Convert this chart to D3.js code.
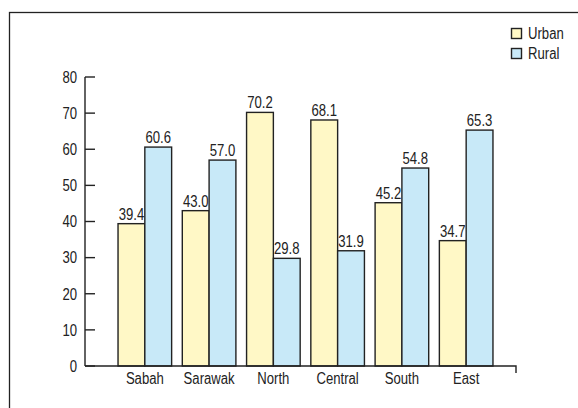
<!DOCTYPE html>
<html><head><meta charset="utf-8">
<script src="https://cdn.jsdelivr.net/npm/d3@7"></script>
<style>
html,body{margin:0;padding:0;background:#fff;}
text{font-family:"Liberation Sans Narrow","Arial Narrow","Liberation Sans",Arial,sans-serif;fill:#222;}
</style></head>
<body>
<svg id="c" width="578" height="408"></svg>
<script>
const categories = ["Sabah","Sarawak","North","Central","South","East"];
const seriesNames = ["Urban","Rural"];
const urban = [39.4,43.0,70.2,68.1,45.2,34.7];
const rural = [60.6,57.0,29.8,31.9,54.8,65.3];
const yTicks = [0,10,20,30,40,50,60,70,80];
const colors = ["#fff8c6","#c8e9f8"];

const svg = d3.select("#c");
const FS = 16, SX = 0.82;
function label(parent, x, y, txt, anchor, dy){
  return parent.append("text")
    .attr("transform",`translate(${x},${y}) scale(${SX},1)`)
    .attr("text-anchor",anchor).attr("dy",dy||0).attr("font-size",FS).text(txt);
}

// frame
svg.append("rect").attr("x",9.5).attr("y",12.5).attr("width",600).attr("height",420)
  .attr("fill","none").attr("stroke","#222").attr("stroke-width",1.3);

const axisX = 85, y0px = 366, y80px = 77;
const y = d3.scaleLinear().domain([0,80]).range([y0px,y80px]);
const x = d3.scaleBand().domain(categories).range([112.7,498.3]).paddingInner(0.166).paddingOuter(0.083);
const xs = d3.scaleBand().domain(seriesNames).range([0,x.bandwidth()]);

// y axis
svg.append("line").attr("x1",axisX).attr("x2",axisX).attr("y1",y(80)).attr("y2",y(0))
  .attr("stroke","#222").attr("stroke-width",1.4);
const yt = svg.append("g");
yTicks.forEach(t=>{
  yt.append("line").attr("x1",axisX).attr("x2",axisX+10).attr("y1",y(t)).attr("y2",y(t))
    .attr("stroke","#222").attr("stroke-width",1.4);
  label(yt, axisX-8, y(t), t, "end", "0.36em");
});

// bars
const data = categories.map((c,i)=>({c, vals:[urban[i],rural[i]]}));
const g = svg.append("g");
data.forEach(d=>{
  d.vals.forEach((v,j)=>{
    const bx = x(d.c)+xs(seriesNames[j]);
    g.append("rect").attr("x",bx).attr("y",y(v)).attr("width",xs.bandwidth()).attr("height",y(0)-y(v))
      .attr("fill",colors[j]).attr("stroke","#222").attr("stroke-width",1.4);
    label(g, bx+xs.bandwidth()/2, y(v)-4, v.toFixed(1), "middle");
  });
  label(g, x(d.c)+x.bandwidth()/2, 384, d.c, "middle");
});

// x axis
svg.append("path").attr("d",`M${axisX},${y(0)}H516V${y(0)+7}`)
  .attr("fill","none").attr("stroke","#222").attr("stroke-width",1.4);

// legend
const lg = svg.append("g");
seriesNames.forEach((s,i)=>{
  lg.append("rect").attr("x",511.5).attr("y",28.5+i*20).attr("width",10).attr("height",10)
    .attr("fill",colors[i]).attr("stroke","#222").attr("stroke-width",1.4);
  label(lg, 528, 33.5+i*20, s, "start", "0.36em");
});
</script>
</body></html>
